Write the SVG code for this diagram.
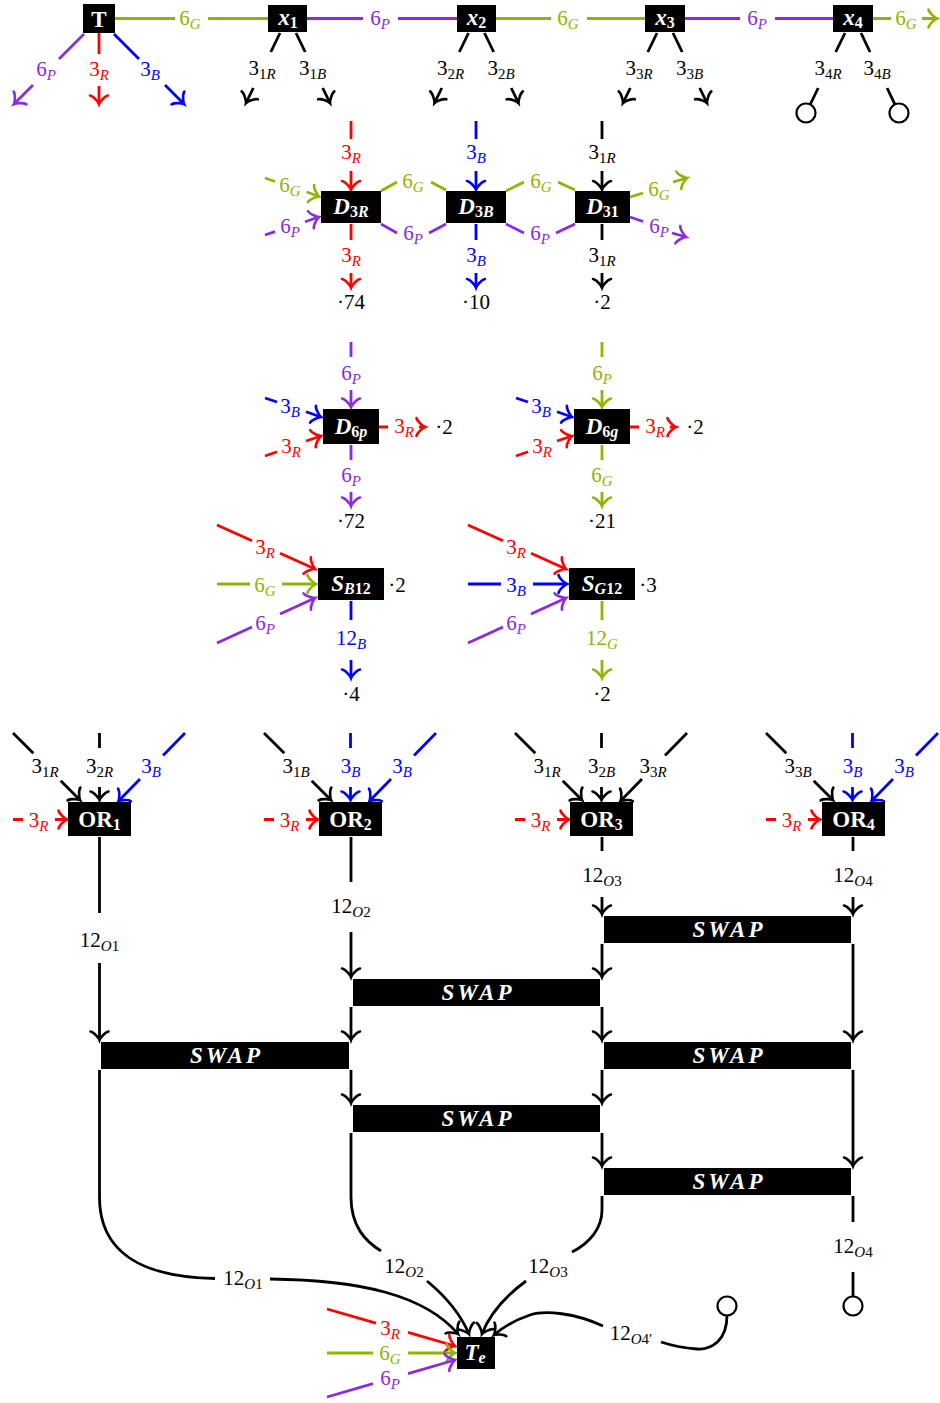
<svg xmlns="http://www.w3.org/2000/svg" width="940" height="1403" viewBox="0 0 940 1403">
<style>
.ln{fill:none;stroke-width:2.8}
path.k{stroke:#000} path.r{stroke:#f00} path.b{stroke:#00f} path.g{stroke:#8db600} path.p{stroke:#8a2be2}
text.l{font-family:"Liberation Serif",serif;font-size:21px;text-anchor:middle}
text.k{fill:#000} text.r{fill:#f00} text.b{fill:#00f} text.g{fill:#8db600} text.p{fill:#8a2be2}
.s{font-size:15px}
.i{font-style:italic}
.box{fill:#000}
text.n{font-family:"Liberation Serif",serif;font-size:23px;font-weight:bold;fill:#fff;text-anchor:middle}
.ns{font-size:16px}
.sw{letter-spacing:3px;font-style:italic}
.end{fill:#fff;stroke:#000;stroke-width:2.2}
</style>
<defs>
<marker id="ak" markerUnits="userSpaceOnUse" orient="auto" viewBox="-12 -12 24 24" markerWidth="24" markerHeight="24" refX="0" refY="0"><path d="M-8.5,-9 C-8,-5.6 -1.5,-0.5 0,0 C-1.5,0.5 -8,5.6 -8.5,9" fill="none" stroke="#000" stroke-width="2.6" stroke-linecap="round"/></marker>
<marker id="ar" markerUnits="userSpaceOnUse" orient="auto" viewBox="-12 -12 24 24" markerWidth="24" markerHeight="24" refX="0" refY="0"><path d="M-8.5,-9 C-8,-5.6 -1.5,-0.5 0,0 C-1.5,0.5 -8,5.6 -8.5,9" fill="none" stroke="#f00" stroke-width="2.6" stroke-linecap="round"/></marker>
<marker id="ab" markerUnits="userSpaceOnUse" orient="auto" viewBox="-12 -12 24 24" markerWidth="24" markerHeight="24" refX="0" refY="0"><path d="M-8.5,-9 C-8,-5.6 -1.5,-0.5 0,0 C-1.5,0.5 -8,5.6 -8.5,9" fill="none" stroke="#00f" stroke-width="2.6" stroke-linecap="round"/></marker>
<marker id="ag" markerUnits="userSpaceOnUse" orient="auto" viewBox="-12 -12 24 24" markerWidth="24" markerHeight="24" refX="0" refY="0"><path d="M-8.5,-9 C-8,-5.6 -1.5,-0.5 0,0 C-1.5,0.5 -8,5.6 -8.5,9" fill="none" stroke="#8db600" stroke-width="2.6" stroke-linecap="round"/></marker>
<marker id="ap" markerUnits="userSpaceOnUse" orient="auto" viewBox="-12 -12 24 24" markerWidth="24" markerHeight="24" refX="0" refY="0"><path d="M-8.5,-9 C-8,-5.6 -1.5,-0.5 0,0 C-1.5,0.5 -8,5.6 -8.5,9" fill="none" stroke="#8a2be2" stroke-width="2.6" stroke-linecap="round"/></marker>
</defs>

<g id="connectors">
<!-- top row -->
<path class="ln g" d="M115,18.5 L175,18.5 M208,18.5 L268,18.5"/>
<text class="l g" x="190" y="25">6<tspan class="s i" dy="4">G</tspan></text>
<path class="ln p" d="M307,18.5 L363,18.5 M398,18.5 L457,18.5"/>
<text class="l p" x="380" y="25">6<tspan class="s i" dy="4">P</tspan></text>
<path class="ln g" d="M496,18.5 L551,18.5 M587,18.5 L645,18.5"/>
<text class="l g" x="568" y="25">6<tspan class="s i" dy="4">G</tspan></text>
<path class="ln p" d="M685,18.5 L740,18.5 M775,18.5 L833,18.5"/>
<text class="l p" x="757" y="25">6<tspan class="s i" dy="4">P</tspan></text>
<path class="ln g" d="M873,18.5 L891,18.5 M922,18.5 L937,18.5" marker-end="url(#ag)"/>
<text class="l g" x="906" y="25">6<tspan class="s i" dy="4">G</tspan></text>

<path class="ln p" d="M84,34 L59,59 M33,85 L14,104" marker-end="url(#ap)"/>
<text class="l p" x="46" y="76">6<tspan class="s i" dy="4">P</tspan></text>
<path class="ln r" d="M99,33 L99,54 M99,86 L99,104" marker-end="url(#ar)"/>
<text class="l r" x="99" y="76">3<tspan class="s i" dy="4">R</tspan></text>
<path class="ln b" d="M114,34 L139,59 M165,85 L184,104" marker-end="url(#ab)"/>
<text class="l b" x="150" y="76">3<tspan class="s i" dy="4">B</tspan></text>

<path class="ln k" d="M280,33 L270.8,52 M253.3,88 L246,103" marker-end="url(#ak)"/>
<text class="l k" x="262" y="75">3<tspan class="s" dy="4">1<tspan class="i">R</tspan></tspan></text>
<path class="ln k" d="M296,33 L305.2,52 M322.7,88 L330,103" marker-end="url(#ak)"/>
<text class="l k" x="312.5" y="75">3<tspan class="s" dy="4">1<tspan class="i">B</tspan></tspan></text>
<path class="ln k" d="M468.5,33 L459.3,52 M441.8,88 L434.5,103" marker-end="url(#ak)"/>
<text class="l k" x="450.5" y="75">3<tspan class="s" dy="4">2<tspan class="i">R</tspan></tspan></text>
<path class="ln k" d="M484.5,33 L493.7,52 M511.2,88 L518.5,103" marker-end="url(#ak)"/>
<text class="l k" x="501" y="75">3<tspan class="s" dy="4">2<tspan class="i">B</tspan></tspan></text>
<path class="ln k" d="M657,33 L647.8,52 M630.3,88 L623,103" marker-end="url(#ak)"/>
<text class="l k" x="639" y="75">3<tspan class="s" dy="4">3<tspan class="i">R</tspan></tspan></text>
<path class="ln k" d="M673,33 L682.2,52 M699.7,88 L707,103" marker-end="url(#ak)"/>
<text class="l k" x="689.5" y="75">3<tspan class="s" dy="4">3<tspan class="i">B</tspan></tspan></text>
<path class="ln k" d="M845,33 L835.7,52 M818.2,88 L810.2,104.5"/>
<text class="l k" x="828" y="75">3<tspan class="s" dy="4">4<tspan class="i">R</tspan></tspan></text>
<path class="ln k" d="M861,33 L870,52 M887.1,88 L894.9,104.4"/>
<text class="l k" x="877" y="75">3<tspan class="s" dy="4">4<tspan class="i">B</tspan></tspan></text>
<circle class="end" cx="806" cy="113" r="9.5"/>
<circle class="end" cx="899" cy="113" r="9.5"/>

<!-- D row -->
<path class="ln r" d="M351,121 L351,139 M351,171 L351,189.5" marker-end="url(#ar)"/>
<text class="l r" x="351" y="159">3<tspan class="s i" dy="4">R</tspan></text>
<path class="ln r" d="M351,224 L351,240 M351,273 L351,287.5" marker-end="url(#ar)"/>
<text class="l r" x="351" y="261.5">3<tspan class="s i" dy="4">R</tspan></text>
<path class="ln b" d="M476,121 L476,139 M476,171 L476,189.5" marker-end="url(#ab)"/>
<text class="l b" x="476" y="159">3<tspan class="s i" dy="4">B</tspan></text>
<path class="ln b" d="M476,224 L476,240 M476,273 L476,287.5" marker-end="url(#ab)"/>
<text class="l b" x="476" y="261.5">3<tspan class="s i" dy="4">B</tspan></text>
<path class="ln k" d="M602,121 L602,139 M602,171 L602,189.5" marker-end="url(#ak)"/>
<text class="l k" x="602" y="159">3<tspan class="s" dy="4">1<tspan class="i">R</tspan></tspan></text>
<path class="ln k" d="M602,224 L602,240 M602,273 L602,287.5" marker-end="url(#ak)"/>
<text class="l k" x="602" y="261.5">3<tspan class="s" dy="4">1<tspan class="i">R</tspan></tspan></text>

<path class="ln g" d="M265,178 L275,181.5 M306.7,192 L319,196.5" marker-end="url(#ag)"/>
<text class="l g" x="290" y="191.5">6<tspan class="s i" dy="4">G</tspan></text>
<path class="ln p" d="M265,235 L275,231.6 M305,221.8 L319,217" marker-end="url(#ap)"/>
<text class="l p" x="290" y="233">6<tspan class="s i" dy="4">P</tspan></text>
<path class="ln g" d="M381,191 L397,182 M431,182 L446,190"/>
<text class="l g" x="413" y="188">6<tspan class="s i" dy="4">G</tspan></text>
<path class="ln p" d="M381,224 L397,233 M429,233 L446,224"/>
<text class="l p" x="413" y="240">6<tspan class="s i" dy="4">P</tspan></text>
<path class="ln g" d="M506,191 L524,182 M558,182 L575,190"/>
<text class="l g" x="541" y="188">6<tspan class="s i" dy="4">G</tspan></text>
<path class="ln p" d="M506,224 L524,233 M556,233 L575,224"/>
<text class="l p" x="540" y="240">6<tspan class="s i" dy="4">P</tspan></text>
<path class="ln g" d="M630,197 L643,193 M673,182 L687,178" marker-end="url(#ag)"/>
<text class="l g" x="659" y="196">6<tspan class="s i" dy="4">G</tspan></text>
<path class="ln p" d="M630,217 L643,221.5 M672,233 L686,237" marker-end="url(#ap)"/>
<text class="l p" x="659" y="233">6<tspan class="s i" dy="4">P</tspan></text>

<!-- D6 row -->
<path class="ln p" d="M351,342 L351,357 M351,390 L351,407" marker-end="url(#ap)"/>
<text class="l p" x="351" y="380">6<tspan class="s i" dy="4">P</tspan></text>
<path class="ln p" d="M351,445 L351,460 M351,492 L351,506" marker-end="url(#ap)"/>
<text class="l p" x="351" y="481.5">6<tspan class="s i" dy="4">P</tspan></text>
<path class="ln b" d="M265,398 L277,402 M306,411.8 L321,417" marker-end="url(#ab)"/>
<text class="l b" x="290" y="413">3<tspan class="s i" dy="4">B</tspan></text>
<path class="ln r" d="M265,456 L277,451.7 M306,441 L321,436" marker-end="url(#ar)"/>
<text class="l r" x="291" y="452.5">3<tspan class="s i" dy="4">R</tspan></text>
<path class="ln r" d="M379,427 L388,427 M419,427 L425,427" marker-end="url(#ar)"/>
<text class="l r" x="404" y="433">3<tspan class="s i" dy="4">R</tspan></text>

<path class="ln g" d="M602,342 L602,357 M602,390 L602,407" marker-end="url(#ag)"/>
<text class="l g" x="602" y="380">6<tspan class="s i" dy="4">P</tspan></text>
<path class="ln g" d="M602,445 L602,460 M602,492 L602,506" marker-end="url(#ag)"/>
<text class="l g" x="602" y="481.5">6<tspan class="s i" dy="4">G</tspan></text>
<path class="ln b" d="M516,398 L528,402 M557,411.8 L572,417" marker-end="url(#ab)"/>
<text class="l b" x="541" y="413">3<tspan class="s i" dy="4">B</tspan></text>
<path class="ln r" d="M516,456 L528,451.7 M557,441 L572,436" marker-end="url(#ar)"/>
<text class="l r" x="542" y="452.5">3<tspan class="s i" dy="4">R</tspan></text>
<path class="ln r" d="M630,427 L639,427 M670,427 L676,427" marker-end="url(#ar)"/>
<text class="l r" x="655" y="433">3<tspan class="s i" dy="4">R</tspan></text>

<!-- S row -->
<path class="ln r" d="M217,525 L252,540.7 M280,553.3 L315,569" marker-end="url(#ar)"/>
<text class="l r" x="265" y="554">3<tspan class="s i" dy="4">R</tspan></text>
<path class="ln g" d="M217,584 L250,584 M282,584 L316,584" marker-end="url(#ag)"/>
<text class="l g" x="265" y="591.5">6<tspan class="s i" dy="4">G</tspan></text>
<path class="ln p" d="M217,643 L252,627 M280,614 L315,598" marker-end="url(#ap)"/>
<text class="l p" x="265" y="630">6<tspan class="s i" dy="4">P</tspan></text>
<path class="ln b" d="M351,601 L351,620 M351,660 L351,678" marker-end="url(#ab)"/>
<text class="l b" x="351" y="645">12<tspan class="s i" dy="4">B</tspan></text>

<path class="ln r" d="M468,525 L503,540.7 M531,553.3 L566,569" marker-end="url(#ar)"/>
<text class="l r" x="516" y="554">3<tspan class="s i" dy="4">R</tspan></text>
<path class="ln b" d="M468,584 L501,584 M533,584 L567,584" marker-end="url(#ab)"/>
<text class="l b" x="516" y="591.5">3<tspan class="s i" dy="4">B</tspan></text>
<path class="ln p" d="M468,643 L503,627 M531,614 L566,598" marker-end="url(#ap)"/>
<text class="l p" x="516" y="630">6<tspan class="s i" dy="4">P</tspan></text>
<path class="ln g" d="M602,601 L602,620 M602,660 L602,678" marker-end="url(#ag)"/>
<text class="l g" x="602" y="645">12<tspan class="s i" dy="4">G</tspan></text>

<!-- OR row inputs -->
<path class="ln k" d="M13,733 L33.3,753.3 M60.7,780.7 L80,800" marker-end="url(#ak)"/>
<text class="l k" x="45" y="773">3<tspan class="s" dy="4">1<tspan class="i">R</tspan></tspan></text>
<path class="ln k" d="M99.5,733 L99.5,748 M99.5,787 L99.5,800" marker-end="url(#ak)"/>
<text class="l k" x="99.5" y="773">3<tspan class="s" dy="4">2<tspan class="i">R</tspan></tspan></text>
<path class="ln b" d="M185,733 L163,755.5 M140,779 L118.5,801" marker-end="url(#ab)"/>
<text class="l b" x="151" y="773">3<tspan class="s i" dy="4">B</tspan></text>
<path class="ln r" d="M13,819.5 L23,819.5 M55,819.5 L67,819.5" marker-end="url(#ar)"/>
<text class="l r" x="38.5" y="826.5">3<tspan class="s i" dy="4">R</tspan></text>

<path class="ln k" d="M264,733 L284.3,753.3 M311.7,780.7 L331,800" marker-end="url(#ak)"/>
<text class="l k" x="296" y="773">3<tspan class="s" dy="4">1<tspan class="i">B</tspan></tspan></text>
<path class="ln b" d="M350.5,733 L350.5,748 M350.5,787 L350.5,800" marker-end="url(#ab)"/>
<text class="l b" x="350.5" y="773">3<tspan class="s i" dy="4">B</tspan></text>
<path class="ln b" d="M436,733 L414,755.5 M391,779 L369.5,801" marker-end="url(#ab)"/>
<text class="l b" x="402" y="773">3<tspan class="s i" dy="4">B</tspan></text>
<path class="ln r" d="M264,819.5 L274,819.5 M306,819.5 L318,819.5" marker-end="url(#ar)"/>
<text class="l r" x="289.5" y="826.5">3<tspan class="s i" dy="4">R</tspan></text>

<path class="ln k" d="M515,733 L535.3,753.3 M562.7,780.7 L582,800" marker-end="url(#ak)"/>
<text class="l k" x="547" y="773">3<tspan class="s" dy="4">1<tspan class="i">R</tspan></tspan></text>
<path class="ln k" d="M601.5,733 L601.5,748 M601.5,787 L601.5,800" marker-end="url(#ak)"/>
<text class="l k" x="601.5" y="773">3<tspan class="s" dy="4">2<tspan class="i">B</tspan></tspan></text>
<path class="ln k" d="M687,733 L665,755.5 M642,779 L620.5,801" marker-end="url(#ak)"/>
<text class="l k" x="653" y="773">3<tspan class="s" dy="4">3<tspan class="i">R</tspan></tspan></text>
<path class="ln r" d="M515,819.5 L525,819.5 M557,819.5 L569,819.5" marker-end="url(#ar)"/>
<text class="l r" x="540.5" y="826.5">3<tspan class="s i" dy="4">R</tspan></text>

<path class="ln k" d="M766,733 L786.3,753.3 M813.7,780.7 L833,800" marker-end="url(#ak)"/>
<text class="l k" x="798" y="773">3<tspan class="s" dy="4">3<tspan class="i">B</tspan></tspan></text>
<path class="ln b" d="M852.5,733 L852.5,748 M852.5,787 L852.5,800" marker-end="url(#ab)"/>
<text class="l b" x="852.5" y="773">3<tspan class="s i" dy="4">B</tspan></text>
<path class="ln b" d="M938,733 L916,755.5 M893,779 L871.5,801" marker-end="url(#ab)"/>
<text class="l b" x="904" y="773">3<tspan class="s i" dy="4">B</tspan></text>
<path class="ln r" d="M766,819.5 L776,819.5 M808,819.5 L820,819.5" marker-end="url(#ar)"/>
<text class="l r" x="791.5" y="826.5">3<tspan class="s i" dy="4">R</tspan></text>

<!-- OR outputs and swap network -->
<path class="ln k" d="M99.5,837 L99.5,913 M99.5,963 L99.5,1040" marker-end="url(#ak)"/>
<text class="l k" x="99.5" y="946.5">12<tspan class="s" dy="4"><tspan class="i">O</tspan>1</tspan></text>
<path class="ln k" d="M351,837 L351,882 M351,932 L351,977" marker-end="url(#ak)"/>
<text class="l k" x="351" y="913">12<tspan class="s" dy="4"><tspan class="i">O</tspan>2</tspan></text>
<path class="ln k" d="M602,837 L602,851 M602,897 L602,914" marker-end="url(#ak)"/>
<text class="l k" x="602" y="881.5">12<tspan class="s" dy="4"><tspan class="i">O</tspan>3</tspan></text>
<path class="ln k" d="M853,837 L853,851 M853,897 L853,914" marker-end="url(#ak)"/>
<text class="l k" x="853" y="881.5">12<tspan class="s" dy="4"><tspan class="i">O</tspan>4</tspan></text>

<path class="ln k" d="M351,1007 L351,1040" marker-end="url(#ak)"/>
<path class="ln k" d="M351,1070 L351,1103" marker-end="url(#ak)"/>
<path class="ln k" d="M602,944 L602,977" marker-end="url(#ak)"/>
<path class="ln k" d="M602,1007 L602,1040" marker-end="url(#ak)"/>
<path class="ln k" d="M602,1070 L602,1103" marker-end="url(#ak)"/>
<path class="ln k" d="M602,1133 L602,1166" marker-end="url(#ak)"/>
<path class="ln k" d="M853,944 L853,1040" marker-end="url(#ak)"/>
<path class="ln k" d="M853,1070 L853,1166" marker-end="url(#ak)"/>

<!-- outputs to Te -->
<path class="ln k" d="M853,1196 L853,1222 M853,1272 L853,1296.5"/>
<text class="l k" x="853" y="1252.5">12<tspan class="s" dy="4"><tspan class="i">O</tspan>4</tspan></text>
<circle class="end" cx="853" cy="1306" r="9.5"/>
<path class="ln k" d="M99.5,1070 L99.5,1197 C99.5,1252 140,1277 215,1278.5 M270,1279 C360,1280 425,1295 458,1334" marker-end="url(#ak)"/>
<text class="l k" x="243" y="1285">12<tspan class="s" dy="4"><tspan class="i">O</tspan>1</tspan></text>
<path class="ln k" d="M351,1133 L351,1197 C351,1226 365,1241 381,1251 M427,1281 C444,1295 460,1313 469,1334" marker-end="url(#ak)"/>
<text class="l k" x="404" y="1273">12<tspan class="s" dy="4"><tspan class="i">O</tspan>2</tspan></text>
<path class="ln k" d="M602,1196 L602,1210 C602,1228 590,1243 572,1252 M526,1281 C507,1295 490,1313 482,1334" marker-end="url(#ak)"/>
<text class="l k" x="548" y="1273">12<tspan class="s" dy="4"><tspan class="i">O</tspan>3</tspan></text>
<circle class="end" cx="727" cy="1306" r="9.5"/>
<path class="ln k" d="M727,1315.5 C727,1340 712,1350 697,1349 C683,1348 670,1345 661,1342 M603,1326 C575,1313 545,1310 530,1315 C515,1320 502,1328 494,1335" marker-end="url(#ak)"/>
<text class="l k" x="631" y="1340">12<tspan class="s" dy="4"><tspan class="i">O</tspan>4′</tspan></text>

<path class="ln r" d="M327,1309 L376,1323.2 M408,1332.3 L455,1346" marker-end="url(#ar)"/>
<text class="l r" x="390" y="1335">3<tspan class="s i" dy="4">R</tspan></text>
<path class="ln g" d="M327,1353 L373,1353 M408,1353 L455,1353" marker-end="url(#ag)"/>
<text class="l g" x="390" y="1360">6<tspan class="s i" dy="4">G</tspan></text>
<path class="ln p" d="M327,1397 L373,1383.7 M408,1373.6 L455,1360" marker-end="url(#ap)"/>
<text class="l p" x="390" y="1385">6<tspan class="s i" dy="4">P</tspan></text>
</g>

<g id="annotations">
<text class="l k" x="351" y="309">·74</text>
<text class="l k" x="476" y="309">·10</text>
<text class="l k" x="602" y="309">·2</text>
<text class="l k" x="351" y="528">·72</text>
<text class="l k" x="602" y="528">·21</text>
<text class="l k" x="444" y="434">·2</text>
<text class="l k" x="695" y="434">·2</text>
<text class="l k" x="397" y="591.5">·2</text>
<text class="l k" x="648" y="591.5">·3</text>
<text class="l k" x="351" y="701">·4</text>
<text class="l k" x="602" y="701">·2</text>
</g>

<g id="T"><rect class="box" x="83" y="4" width="32" height="29"/><text class="n" x="99" y="26.5">T</text></g>
<g id="x1"><rect class="box" x="268" y="5" width="39" height="27"/><text class="n" x="288" y="25"><tspan class="i">x</tspan><tspan class="ns" dy="3">1</tspan></text></g>
<g id="x2"><rect class="box" x="457" y="5" width="39" height="27"/><text class="n" x="476.5" y="25"><tspan class="i">x</tspan><tspan class="ns" dy="3">2</tspan></text></g>
<g id="x3"><rect class="box" x="645" y="5" width="40" height="27"/><text class="n" x="665" y="25"><tspan class="i">x</tspan><tspan class="ns" dy="3">3</tspan></text></g>
<g id="x4"><rect class="box" x="833" y="5" width="40" height="27"/><text class="n" x="853" y="25"><tspan class="i">x</tspan><tspan class="ns" dy="3">4</tspan></text></g>

<g id="D3R"><rect class="box" x="321" y="191" width="60" height="32"/><text class="n" x="351" y="214"><tspan class="i">D</tspan><tspan class="ns" dy="3">3<tspan class="i">R</tspan></tspan></text></g>
<g id="D3B"><rect class="box" x="446" y="191" width="60" height="32"/><text class="n" x="476" y="214"><tspan class="i">D</tspan><tspan class="ns" dy="3">3<tspan class="i">B</tspan></tspan></text></g>
<g id="D31"><rect class="box" x="575" y="191" width="55" height="32"/><text class="n" x="602.5" y="214"><tspan class="i">D</tspan><tspan class="ns" dy="3">31</tspan></text></g>

<g id="D6p"><rect class="box" x="323" y="409" width="56" height="35"/><text class="n" x="351" y="434"><tspan class="i">D</tspan><tspan class="ns" dy="3">6<tspan class="i">p</tspan></tspan></text></g>
<g id="D6g"><rect class="box" x="574" y="409" width="56" height="35"/><text class="n" x="602" y="434"><tspan class="i">D</tspan><tspan class="ns" dy="3">6<tspan class="i">g</tspan></tspan></text></g>

<g id="SB12"><rect class="box" x="318" y="568" width="66" height="32"/><text class="n" x="351" y="591"><tspan class="i">S</tspan><tspan class="ns" dy="3"><tspan class="i">B</tspan>12</tspan></text></g>
<g id="SG12"><rect class="box" x="569" y="568" width="66" height="32"/><text class="n" x="602" y="591"><tspan class="i">S</tspan><tspan class="ns" dy="3"><tspan class="i">G</tspan>12</tspan></text></g>

<g id="OR1"><rect class="box" x="68" y="802" width="63" height="34"/><text class="n" x="99.5" y="826.5">OR<tspan class="ns" dy="3">1</tspan></text></g>
<g id="OR2"><rect class="box" x="319" y="802" width="63" height="34"/><text class="n" x="350.5" y="826.5">OR<tspan class="ns" dy="3">2</tspan></text></g>
<g id="OR3"><rect class="box" x="570" y="802" width="63" height="34"/><text class="n" x="601.5" y="826.5">OR<tspan class="ns" dy="3">3</tspan></text></g>
<g id="OR4"><rect class="box" x="822" y="802" width="63" height="34"/><text class="n" x="853.5" y="826.5">OR<tspan class="ns" dy="3">4</tspan></text></g>

<g id="SWAP1"><rect class="box" x="604" y="916" width="247" height="27"/><text class="n sw" x="729" y="937">SWAP</text></g>
<g id="SWAP2"><rect class="box" x="353" y="979" width="247" height="27"/><text class="n sw" x="478" y="1000">SWAP</text></g>
<g id="SWAP3"><rect class="box" x="101" y="1042" width="248" height="27"/><text class="n sw" x="226.5" y="1063">SWAP</text></g>
<g id="SWAP4"><rect class="box" x="604" y="1042" width="247" height="27"/><text class="n sw" x="729" y="1063">SWAP</text></g>
<g id="SWAP5"><rect class="box" x="353" y="1105" width="247" height="27"/><text class="n sw" x="478" y="1126">SWAP</text></g>
<g id="SWAP6"><rect class="box" x="604" y="1168" width="247" height="27"/><text class="n sw" x="729" y="1189">SWAP</text></g>

<g id="Te"><rect class="box" x="457" y="1337" width="38" height="32"/><text class="n" x="475" y="1360"><tspan class="i">T</tspan><tspan class="ns i" dy="3">e</tspan></text></g>
</svg>
